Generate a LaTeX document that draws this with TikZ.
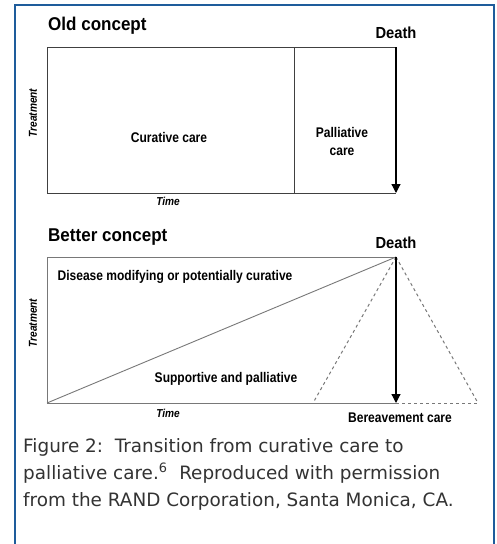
\documentclass[tikz,border=0pt]{standalone}
\usepackage{fontspec}
\setmainfont{DejaVu Sans}
\newfontfamily\labfont[FakeStretch=0.86]{Liberation Sans Bold}
\newfontfamily\labitfont[FakeStretch=0.88]{Liberation Sans Bold Italic}
\newfontfamily\ttlfont[FakeStretch=0.92]{Liberation Sans Bold}
\usetikzlibrary{arrows.meta}
\definecolor{framecol}{RGB}{30,92,155}
\definecolor{captcol}{RGB}{51,51,51}
\definecolor{linegray}{RGB}{120,120,120}
\tikzset{
  ttl/.style={inner sep=0pt, font=\ttlfont\fontsize{18.5}{20}\selectfont},
  deathlab/.style={inner sep=0pt, font=\ttlfont\fontsize{16}{18}\selectfont},
  lab/.style={inner sep=0pt, align=center, font=\labfont\fontsize{14}{18}\selectfont},
  axlab/.style={inner sep=0pt, font=\labitfont\fontsize{11.5}{12}\selectfont},
  boxline/.style={draw=black!75, line width=0.8pt},
  grayline/.style={draw=linegray, line width=0.9pt},
  dotline/.style={draw=linegray, line width=1pt, dash pattern=on 3pt off 3pt},
  deatharrow/.style={draw=black, line width=1.2pt, -{Triangle[length=9pt,width=9pt]}},
  capt/.style={inner sep=0pt, anchor=base west, text=captcol, font=\fontsize{18.4}{27}\selectfont}
}
\begin{document}
\begin{tikzpicture}[x=1pt,y=-1pt]
\useasboundingbox (0,0) rectangle (497,544);
\fill[white] (0,0) rectangle (497,544);
% frame
\draw[framecol, line width=2.5pt] (15,546) -- (15,5) -- (494,5) -- (494,546);

% ---------- Old concept ----------
\coordinate (o1) at (47,47);
\coordinate (o2) at (396,47);
\coordinate (o3) at (396,193);
\coordinate (o4) at (47,193);
\coordinate (od1) at (294,47);
\coordinate (od2) at (294,193);
\draw[boxline] (o2) -- (o1) -- (o4) -- (o3);
\draw[boxline] (od1) -- (od2);
\draw[deatharrow] (o2) -- (o3);
\node[ttl, anchor=west] (oldt) at (48,26) {Old concept};
\node[deathlab] (death1) at (396,33) {Death};
\node[lab] (cur) at (169,137) {Curative care};
\node[lab] (pal) at (342,141) {Palliative\\care};
\node[axlab, rotate=90] (tr1) at (33,113) {Treatment};
\node[axlab] (time1) at (168,201) {Time};

% ---------- Better concept ----------
\coordinate (b1) at (47,257);
\coordinate (b2) at (396,257);
\coordinate (b3) at (396,403);
\coordinate (b4) at (47,403);
\coordinate (bl) at (313,403);
\coordinate (br) at (478,403);
\draw[grayline] (b2) -- (b1) -- (b4) -- (b3);
\draw[grayline] (b4) -- (b2);
\draw[dotline] (b2) -- (bl);
\draw[dotline] (b2) -- (br);
\draw[dotline] (b3) -- (br);
\draw[deatharrow] (b2) -- (b3);
\node[ttl, anchor=west] (bett) at (48,237) {Better concept};
\node[deathlab] (death2) at (396,243) {Death};
\node[lab] (dis) at (175,277) {Disease modifying or potentially curative};
\node[lab] (sup) at (226,379) {Supportive and palliative};
\node[axlab, rotate=90] (tr2) at (33,323) {Treatment};
\node[axlab] (time2) at (168,413) {Time};
\node[lab] (ber) at (400,418) {Bereavement care};

% ---------- Caption ----------
\node[capt] (c1) at (23,452) {Figure 2:\ \ Transition from curative care to};
\node[capt] (c2) at (23,479) {palliative care.\textsuperscript{6}\ \ Reproduced with permission};
\node[capt] (c3) at (23,506) {from the RAND Corporation, Santa Monica, CA.};
\end{tikzpicture}
\end{document}
